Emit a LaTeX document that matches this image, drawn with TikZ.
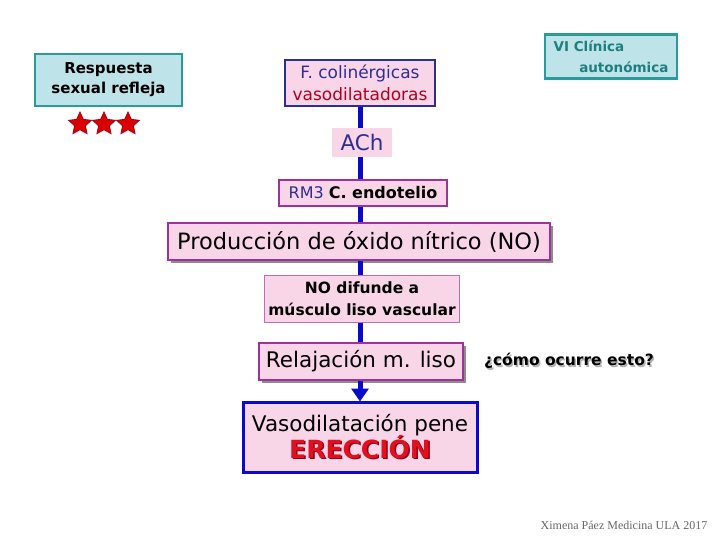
\documentclass[tikz,border=0pt]{standalone}
\usepackage{fontspec}
\setmainfont{DejaVu Sans}
\newfontfamily\footfont{Liberation Serif}
\usetikzlibrary{arrows.meta,shadows,shapes.geometric}
\definecolor{cyanfill}{HTML}{BEE3E8}
\definecolor{tealline}{HTML}{2A9A9A}
\definecolor{tealtext}{HTML}{1E7F7F}
\definecolor{pinkfill}{HTML}{F9D5E8}
\definecolor{navy}{HTML}{2E2E8F}
\definecolor{flowblue}{HTML}{0A0ACC}
\definecolor{purpleline}{HTML}{A0309A}
\definecolor{darkred}{HTML}{B0001E}
\definecolor{ereccred}{HTML}{E01020}
\newcommand{\shadowtext}[3]{\makebox[0pt][l]{\hspace*{1.5pt}\raisebox{-1.5pt}{\textcolor{#1}{#3}}}\textcolor{#2}{#3}}
\tikzset{
  cyanbox/.style={draw=tealline, line width=2.5pt, fill=cyanfill, inner sep=0pt, align=center},
  pinkbox/.style={fill=pinkfill, inner sep=0pt, align=center},
  shadowed/.style={drop shadow={shadow xshift=3pt, shadow yshift=-3pt, fill=black!45, opacity=1}},
  flow/.style={draw=flowblue, line width=5pt},
  starshape/.style={star, star points=5, star point ratio=2.1, fill=red!85!black, draw=darkred, line width=0.8pt, minimum size=24pt, inner sep=0pt},
}
\begin{document}
\begin{tikzpicture}[x=1pt,y=-1pt]
\useasboundingbox (0,0) rectangle (720,540);
% side boxes
\node[cyanbox, minimum width=147pt, minimum height=52pt, font=\bfseries\fontsize{15}{20}\selectfont] (resp) at (108.5,80) {Respuesta\\sexual refleja};
\node[starshape] (s1) at (80,124) {};
\node[starshape] (s2) at (104,124) {};
\node[starshape] (s3) at (128,124) {};
\node[cyanbox, minimum width=132pt, minimum height=44pt, text=tealtext, align=left, font=\bfseries\fontsize{13.5}{21}\selectfont] (vi) at (611,56.5) {VI Clínica\\\hspace*{1.9em}autonómica};
% flow
\node[pinkbox, draw=navy, line width=2pt, minimum width=150pt, minimum height=46pt, font=\fontsize{17}{22}\selectfont] (fcol) at (360,83) {\textcolor{navy}{F. colinérgicas}\\\textcolor{darkred}{vasodilatadoras}};
\node[pinkbox, minimum width=60pt, minimum height=29pt, text=navy, font=\fontsize{21.5}{22}\selectfont] (ach) at (362,142.5) {ACh};
\node[pinkbox, draw=purpleline, line width=1.5pt, minimum width=168pt, minimum height=26pt, font=\fontsize{16}{18}\selectfont] (rm3) at (363,193) {\textcolor{navy}{RM3} \textbf{C. endotelio}};
\node[pinkbox, shadowed, draw=purpleline, line width=2.5pt, minimum width=382pt, minimum height=37pt, font=\fontsize{22.5}{24}\selectfont] (prod) at (359,241.5) {Producción de óxido nítrico (NO)};
\node[pinkbox, draw=purpleline!70, line width=1pt, minimum width=195pt, minimum height=47pt, font=\bfseries\fontsize{15.5}{22}\selectfont] (no) at (362,298.5) {NO difunde a\\músculo liso vascular};
\node[pinkbox, shadowed, draw=purpleline, line width=2.5pt, minimum width=204pt, minimum height=37pt, font=\fontsize{21.5}{24}\selectfont] (rel) at (361,361.5) {Relajación m. liso};
\node[pinkbox, draw=flowblue, line width=3pt, minimum width=234pt, minimum height=70pt, font=\fontsize{21.5}{28}\selectfont] (vaso) at (360,437) {Vasodilatación pene\\[-1pt]{\bfseries\fontsize{25}{28}\selectfont\shadowtext{darkred!80!black}{ereccred}{ERECCIÓN}}};
\node[font=\bfseries\fontsize{15.5}{18}\selectfont, inner sep=0pt] (q) at (569,362) {\shadowtext{black!30}{black}{¿cómo ocurre esto?}};
\node[font=\footfont\fontsize{12}{14}\selectfont, text=black!60, inner sep=0pt] (foot) at (624,525) {Ximena Páez Medicina ULA 2017};
% connectors
\draw[flow] (fcol.south -| 360,0) -- (ach.north -| 360,0);
\draw[flow] (ach.south -| 360,0) -- (rm3.north -| 360,0);
\draw[flow] (rm3.south -| 360,0) -- (prod.north -| 360,0);
\draw[flow] (prod.south -| 360,0) -- (no.north -| 360,0);
\draw[flow] (no.south -| 360,0) -- (rel.north -| 360,0);
\draw[flow, -{Triangle[width=17pt,length=13pt]}, shorten >=-1pt] (rel.south -| 360,0) -- (vaso.north -| 360,0);
\end{tikzpicture}
\end{document}
